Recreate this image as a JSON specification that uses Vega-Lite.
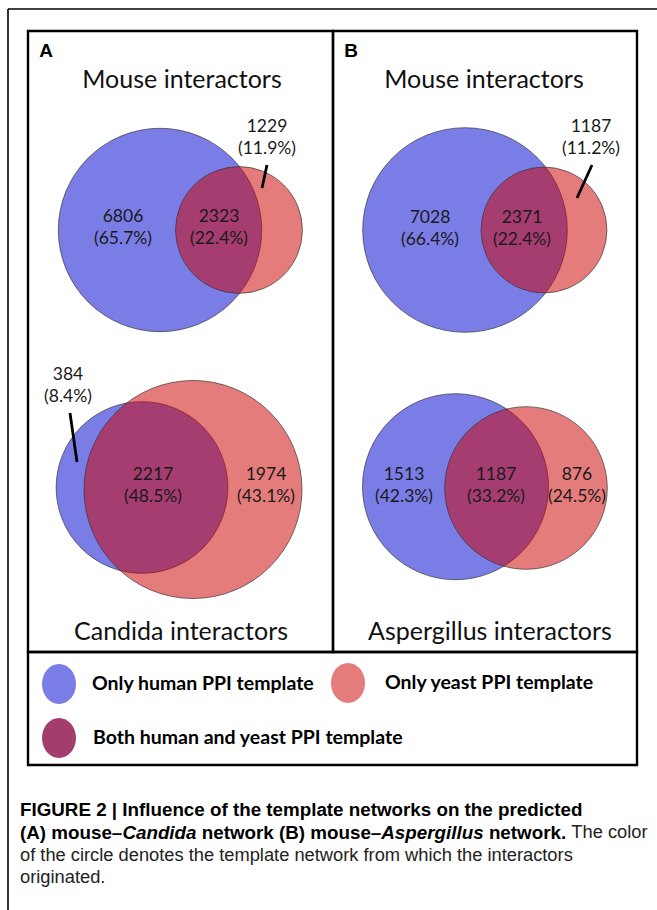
{
  "$schema": "https://vega.github.io/schema/vega-lite/v6.json",
  "width": 657,
  "height": 910,
  "padding": 0,
  "autosize": {"type": "none"},
  "background": "white",
  "config": {"view": {"stroke": null}},
  "datasets": {
    "frame": [
      {"x": 8, "y": 9, "x2": 8, "y2": 910},
      {"x": 8, "y": 9, "x2": 657, "y2": 9}
    ],
    "boxes": [
      {"box": "A", "x": 28, "x2": 333, "y": 31, "y2": 652},
      {"box": "B", "x": 333, "x2": 637, "y": 31, "y2": 652},
      {"box": "legend", "x": 28, "x2": 637, "y": 652, "y2": 765}
    ],
    "circles": [
      {"diagram": "A1", "set": "human", "total": 9129, "x": 160, "y": 230},
      {"diagram": "A1", "set": "yeast", "total": 3552, "x": 239, "y": 230},
      {"diagram": "B1", "set": "human", "total": 9399, "x": 465, "y": 230},
      {"diagram": "B1", "set": "yeast", "total": 3558, "x": 544, "y": 230},
      {"diagram": "A2", "set": "human", "total": 2601, "x": 142, "y": 487.5},
      {"diagram": "A2", "set": "yeast", "total": 4191, "x": 193, "y": 489.5},
      {"diagram": "B2", "set": "human", "total": 2700, "x": 455.5, "y": 486.7},
      {"diagram": "B2", "set": "yeast", "total": 2063, "x": 526, "y": 488}
    ],
    "regions": [
      {"diagram": "A1", "region": "human only", "count": 6806, "pct": 65.7, "x": 123, "y": 228},
      {"diagram": "A1", "region": "both", "count": 2323, "pct": 22.4, "x": 219, "y": 228},
      {"diagram": "A1", "region": "yeast only", "count": 1229, "pct": 11.9, "x": 267, "y": 138},
      {"diagram": "B1", "region": "human only", "count": 7028, "pct": 66.4, "x": 430, "y": 229},
      {"diagram": "B1", "region": "both", "count": 2371, "pct": 22.4, "x": 522, "y": 229},
      {"diagram": "B1", "region": "yeast only", "count": 1187, "pct": 11.2, "x": 591, "y": 137.5},
      {"diagram": "A2", "region": "human only", "count": 384, "pct": 8.4, "x": 68, "y": 386},
      {"diagram": "A2", "region": "both", "count": 2217, "pct": 48.5, "x": 153, "y": 486},
      {"diagram": "A2", "region": "yeast only", "count": 1974, "pct": 43.1, "x": 266, "y": 486},
      {"diagram": "B2", "region": "human only", "count": 1513, "pct": 42.3, "x": 404, "y": 486},
      {"diagram": "B2", "region": "both", "count": 1187, "pct": 33.2, "x": 496, "y": 486},
      {"diagram": "B2", "region": "yeast only", "count": 876, "pct": 24.5, "x": 577, "y": 486}
    ],
    "leaders": [
      {"x": 267, "y": 165, "x2": 262, "y2": 188},
      {"x": 592, "y": 165, "x2": 577, "y2": 198},
      {"x": 70, "y": 413, "x2": 77, "y2": 462}
    ],
    "titles": [
      {"text": "Mouse interactors", "x": 182, "y": 80},
      {"text": "Mouse interactors", "x": 484, "y": 80},
      {"text": "Candida interactors", "x": 181, "y": 632},
      {"text": "Aspergillus interactors", "x": 490, "y": 632}
    ],
    "letters": [
      {"text": "A", "x": 46, "y": 51},
      {"text": "B", "x": 351, "y": 51}
    ],
    "swatches": [
      {"set": "human", "label": "Only human PPI template", "x": 59, "y": 684, "tx": 92},
      {"set": "yeast", "label": "Only yeast PPI template", "x": 348, "y": 683, "tx": 385},
      {"set": "both", "label": "Both human and yeast PPI template", "x": 59, "y": 738, "tx": 93}
    ],
    "capBold": [
      {"text": "FIGURE 2 | Influence of the template networks on the predicted", "x": 20, "y": 810},
      {"text": "(A) mouse–", "x": 20, "y": 833},
      {"text": "network (B) mouse–", "x": 201.8, "y": 833},
      {"text": "network.", "x": 488.9, "y": 833}
    ],
    "capItalic": [
      {"text": "Candida", "x": 122.4, "y": 833},
      {"text": "Aspergillus", "x": 381.3, "y": 833}
    ],
    "capNormal": [
      {"text": "The color", "x": 571.3, "y": 833},
      {"text": "of the circle denotes the template network from which the interactors", "x": 20, "y": 856},
      {"text": "originated.", "x": 20, "y": 878}
    ]
  },
  "encoding": {
    "x": {"field": "x", "type": "quantitative", "scale": {"domain": [0, 657], "nice": false, "zero": false}, "axis": null},
    "y": {"field": "y", "type": "quantitative", "scale": {"domain": [0, 910], "nice": false, "zero": false, "reverse": true}, "axis": null}
  },
  "resolve": {"scale": {"size": "independent"}},
  "layer": [
    {
      "data": {"name": "frame"},
      "mark": {"type": "rule", "color": "black", "strokeWidth": 1.6},
      "encoding": {"x2": {"field": "x2"}, "y2": {"field": "y2"}}
    },
    {
      "data": {"name": "boxes"},
      "mark": {"type": "rect", "fill": "white", "fillOpacity": 0, "stroke": "black", "strokeWidth": 2.4},
      "encoding": {"x2": {"field": "x2"}, "y2": {"field": "y2"}}
    },
    {
      "data": {"name": "circles"},
      "transform": [{"filter": "datum.diagram === 'A1'"}],
      "mark": {"type": "point", "shape": "circle", "filled": true, "opacity": 1, "stroke": "#333333", "strokeWidth": 0.8, "strokeOpacity": 0.85},
      "encoding": {
        "size": {"field": "total", "type": "quantitative", "scale": {"domain": [0, 9129], "range": [0, 41372]}, "legend": null},
        "fill": {"condition": {"test": "datum.set === 'yeast'", "value": "#cc0000"}, "value": "#7b7de6"},
        "fillOpacity": {"condition": {"test": "datum.set === 'yeast'", "value": 0.515}, "value": 1}
      }
    },
    {
      "data": {"name": "circles"},
      "transform": [{"filter": "datum.diagram === 'B1'"}],
      "mark": {"type": "point", "shape": "circle", "filled": true, "opacity": 1, "stroke": "#333333", "strokeWidth": 0.8, "strokeOpacity": 0.85},
      "encoding": {
        "size": {"field": "total", "type": "quantitative", "scale": {"domain": [0, 9399], "range": [0, 41861]}, "legend": null},
        "fill": {"condition": {"test": "datum.set === 'yeast'", "value": "#cc0000"}, "value": "#7b7de6"},
        "fillOpacity": {"condition": {"test": "datum.set === 'yeast'", "value": 0.515}, "value": 1}
      }
    },
    {
      "data": {"name": "circles"},
      "transform": [{"filter": "datum.diagram === 'A2'"}],
      "mark": {"type": "point", "shape": "circle", "filled": true, "opacity": 1, "stroke": "#333333", "strokeWidth": 0.8, "strokeOpacity": 0.85},
      "encoding": {
        "size": {"field": "total", "type": "quantitative", "scale": {"domain": [0, 4191], "range": [0, 47524]}, "legend": null},
        "fill": {"condition": {"test": "datum.set === 'yeast'", "value": "#cc0000"}, "value": "#7b7de6"},
        "fillOpacity": {"condition": {"test": "datum.set === 'yeast'", "value": 0.515}, "value": 1}
      }
    },
    {
      "data": {"name": "circles"},
      "transform": [{"filter": "datum.diagram === 'B2'"}],
      "mark": {"type": "point", "shape": "circle", "filled": true, "opacity": 1, "stroke": "#333333", "strokeWidth": 0.8, "strokeOpacity": 0.85},
      "encoding": {
        "size": {"field": "total", "type": "quantitative", "scale": {"domain": [0, 2700], "range": [0, 34596]}, "legend": null},
        "fill": {"condition": {"test": "datum.set === 'yeast'", "value": "#cc0000"}, "value": "#7b7de6"},
        "fillOpacity": {"condition": {"test": "datum.set === 'yeast'", "value": 0.515}, "value": 1}
      }
    },
    {
      "data": {"name": "leaders"},
      "mark": {"type": "rule", "color": "black", "strokeWidth": 2.8},
      "encoding": {"x2": {"field": "x2"}, "y2": {"field": "y2"}}
    },
    {
      "data": {"name": "regions"},
      "mark": {"type": "text", "font": "Lato", "fontSize": 17.5, "color": "#1a1a1a", "align": "center", "baseline": "middle", "dy": -11},
      "encoding": {"text": {"field": "count", "type": "nominal"}}
    },
    {
      "data": {"name": "regions"},
      "transform": [{"calculate": "'(' + format(datum.pct, '.1f') + '%)'", "as": "pctLabel"}],
      "mark": {"type": "text", "font": "Lato", "fontSize": 17.5, "color": "#1a1a1a", "align": "center", "baseline": "middle", "dy": 11},
      "encoding": {"text": {"field": "pctLabel", "type": "nominal"}}
    },
    {
      "data": {"name": "titles"},
      "mark": {"type": "text", "font": "Lato", "fontSize": 25, "color": "#111111", "align": "center", "baseline": "middle"},
      "encoding": {"text": {"field": "text", "type": "nominal"}}
    },
    {
      "data": {"name": "letters"},
      "mark": {"type": "text", "font": "Liberation Sans", "fontSize": 19, "fontWeight": "bold", "color": "black", "align": "center", "baseline": "middle"},
      "encoding": {"text": {"field": "text", "type": "nominal"}}
    },
    {
      "data": {"name": "swatches"},
      "mark": {"type": "point", "shape": "M -0.85 0 A 0.85 1 0 1 1 0.85 0 A 0.85 1 0 1 1 -0.85 0 Z", "filled": true, "opacity": 1, "size": 1600},
      "encoding": {
        "color": {"field": "set", "type": "nominal", "scale": {"domain": ["human", "yeast", "both"], "range": ["#7b7de6", "#e57c7c", "#a33d6e"]}, "legend": null}
      }
    },
    {
      "data": {"name": "swatches"},
      "mark": {"type": "text", "font": "Lato", "fontSize": 19.5, "fontWeight": "bold", "color": "black", "align": "left", "baseline": "middle"},
      "encoding": {
        "x": {"field": "tx", "type": "quantitative"},
        "text": {"field": "label", "type": "nominal"}
      }
    },
    {
      "data": {"name": "capBold"},
      "mark": {"type": "text", "font": "Liberation Sans", "fontSize": 18.8, "fontWeight": "bold", "color": "black", "align": "left", "baseline": "middle"},
      "encoding": {"text": {"field": "text", "type": "nominal"}}
    },
    {
      "data": {"name": "capItalic"},
      "mark": {"type": "text", "font": "Liberation Sans", "fontSize": 18.8, "fontWeight": "bold", "fontStyle": "italic", "color": "black", "align": "left", "baseline": "middle"},
      "encoding": {"text": {"field": "text", "type": "nominal"}}
    },
    {
      "data": {"name": "capNormal"},
      "mark": {"type": "text", "font": "Liberation Sans", "fontSize": 18.3, "color": "#222222", "align": "left", "baseline": "middle"},
      "encoding": {"text": {"field": "text", "type": "nominal"}}
    }
  ]
}
